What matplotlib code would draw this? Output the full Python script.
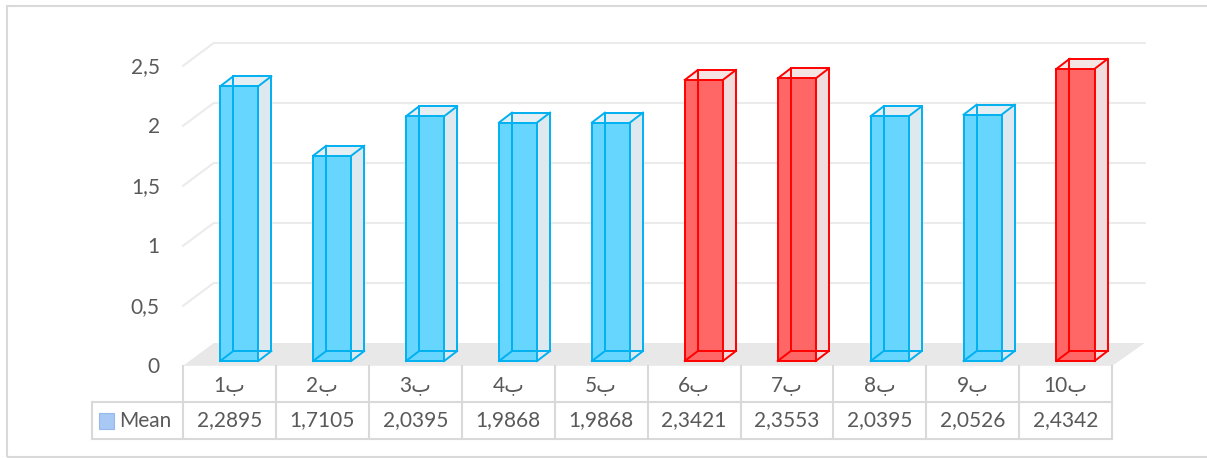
import matplotlib
matplotlib.use("Agg")
import matplotlib.pyplot as plt
from matplotlib.patches import Polygon, Rectangle

plt.rcParams['font.family'] = ['Lato', 'DejaVu Sans']

# data
categories = ["1ب", "2ب", "3ب", "4ب", "5ب", "6ب", "7ب", "8ب", "9ب", "10ب"]
mean = [2.2895, 1.7105, 2.0395, 1.9868, 1.9868, 2.3421, 2.3553, 2.0395, 2.0526, 2.4342]
highlighted = [6, 7, 10]          # categories drawn in red
yticks = [0, 0.5, 1, 1.5, 2, 2.5]
series_name = "Mean"

# styles
txt = '#595959'
grid_c = '#EBEBEB'
tbl_c = '#D9D9D9'
blue = dict(edge='#00B0F0', front='#66D6FF', side='#DDE9EF', top='#E4EEF3')
red = dict(edge='#FF0000', front='#FF6666', side='#F0DCDC', top='#F5E4E4')
fs = 15

def fmt(v):
    return ('%g' % v).replace('.', ',')

fig = plt.figure(figsize=(12.07, 4.58), dpi=100)
ax = fig.add_axes([0, 0, 1, 1])
ax.set_xlim(-2.47, 10.52)
ax.set_ylim(-0.808, 3.008)
ax.axis('off')

# outer chart border
fig.patches.append(Rectangle((7 / 1207, 1 / 458), 1.0, 451 / 458, transform=fig.transFigure,
                             fill=False, edgecolor='#D9D9D9', lw=1.5))

n = len(categories)
wall_dx, floor_f, floor_b = 0.33, -0.04, 0.15

# floor
ax.add_patch(Polygon([(-0.5, floor_f), (n - 0.5, floor_f), (n - 0.5 + wall_dx + 0.02, floor_b),
                      (-0.5 + wall_dx, floor_b)], closed=True, facecolor='#E8E8E8',
                     edgecolor='none', zorder=1))

# gridlines on the back wall + y labels
for v in yticks:
    if v > 0:
        ax.plot([-0.5, -0.5 + wall_dx, n - 0.5 + wall_dx + 0.02],
                [v + floor_f, v + floor_b, v + floor_b], color=grid_c, lw=1.5, zorder=1)
    ax.text(-0.75, v - 0.05, fmt(v), ha='right', va='center', fontsize=fs, color=txt)

# 3d-looking bars
w, dx, dy = 0.41, 0.14, 0.083
for i, v in enumerate(mean):
    st = red if (i + 1) in highlighted else blue
    x0 = i - 0.10
    x1 = x0 + w
    ax.add_patch(Polygon([(x1, 0), (x1 + dx, dy), (x1 + dx, v + dy), (x1, v)],
                         facecolor=st['side'], edgecolor='none', zorder=3))
    ax.add_patch(Polygon([(x0, v), (x1, v), (x1 + dx, v + dy), (x0 + dx, v + dy)],
                         facecolor=st['top'], edgecolor='none', zorder=3))
    ax.add_patch(Rectangle((x0, 0), w, v, facecolor=st['front'], edgecolor='none', zorder=4))
    edges = [
        ([x0, x1, x1, x0, x0], [0, 0, v, v, 0]),
        ([x0 + dx, x1 + dx, x1 + dx, x0 + dx, x0 + dx], [dy, dy, v + dy, v + dy, dy]),
        ([x0, x0 + dx], [0, dy]), ([x1, x1 + dx], [0, dy]),
        ([x0, x0 + dx], [v, v + dy]), ([x1, x1 + dx], [v, v + dy]),
    ]
    for xs, ys in edges:
        ax.plot(xs, ys, color=st['edge'], lw=1.4, zorder=5, solid_joinstyle='miter')

# data table
r1, r2, r3 = floor_f, -0.342, -0.65
hdr_x = -1.48
for k in range(n + 1):
    ax.plot([k - 0.5, k - 0.5], [r1, r3], color=tbl_c, lw=1.5, zorder=2)
ax.plot([hdr_x, hdr_x], [r2, r3], color=tbl_c, lw=1.5, zorder=2)
for yy in (r2, r3):
    ax.plot([hdr_x, n - 0.5], [yy, yy], color=tbl_c, lw=1.5, zorder=2)

for i, (c, v) in enumerate(zip(categories, mean)):
    ax.text(i, (r1 + r2) / 2 - 0.01, c, ha='center', va='center', fontsize=fs, color=txt)
    ax.text(i, (r2 + r3) / 2, ('%.4f' % v).replace('.', ','), ha='center', va='center',
            fontsize=fs, color=txt)

ax.add_patch(Rectangle((-1.40, -0.567), 0.16, 0.134, facecolor='#A9C9F5',
                       edgecolor='#94B8EC', lw=0.8, zorder=3))
ax.text(-1.19, (r2 + r3) / 2, series_name, ha='left', va='center', fontsize=fs, color=txt)

fig.savefig("out.png", dpi=100)
